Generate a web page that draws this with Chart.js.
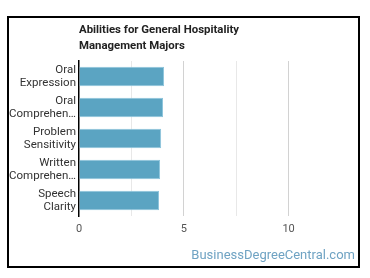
<!DOCTYPE html>
<html>
<head>
<meta charset="utf-8">
<script src="https://cdn.jsdelivr.net/npm/chart.js@4"></script>
<style>
  body { margin: 0; background: #fff; font-family: Roboto, sans-serif; }
  #wrap { position: relative; width: 370px; height: 278px; }
  #frame { position: absolute; left: 7px; top: 16px; width: 353px; height: 252px; box-sizing: border-box; border: 2px solid #000; z-index: 2; }
  #title { position: absolute; left: 79px; top: 21px; font-size: 11.4px; font-weight: bold; line-height: 16px; color: #222; }
  #mark { position: absolute; right: 15px; top: 247px; font-size: 13px; color: #6fa3c3; }
  canvas { position: absolute; left: 0; top: 0; }
</style>
</head>
<body>
<div id="wrap">
  <canvas id="abilitiesChart" width="370" height="278"></canvas>
  <div id="frame"></div>
  <div id="title">Abilities for General Hospitality<br>Management Majors</div>
  <div id="mark">BusinessDegreeCentral.com</div>
</div>
<script>
// Ability names (wrapped as shown) and their scores
const abilityLabels = [
  ['Oral', 'Expression'],
  ['Oral', 'Comprehen…'],
  ['Problem', 'Sensitivity'],
  ['Written', 'Comprehen…'],
  ['Speech', 'Clarity']
];
const abilityScores = [4.06, 4.01, 3.92, 3.87, 3.82];
const xTicks = [0, 5, 10];

const ctx = document.getElementById('abilitiesChart').getContext('2d');
new Chart(ctx, {
  type: 'bar',
  data: {
    labels: abilityLabels,
    datasets: [{
      data: abilityScores,
      backgroundColor: '#5ba4c2',
      borderColor: '#8cc4dc',
      borderWidth: 1,
      barPercentage: 0.63,
      categoryPercentage: 1
    }]
  },
  options: {
    indexAxis: 'y',
    responsive: false,
    animation: false,
    layout: { padding: { top: 61, right: 29, bottom: 38, left: 0 } },
    plugins: { legend: { display: false }, tooltip: { enabled: false } },
    scales: {
      x: {
        min: 0,
        max: 12.5,
        afterFit: s => { s.height = 24; },
        ticks: {
          stepSize: 2.5,
          autoSkip: false,
          maxRotation: 0,
          padding: 7,
          color: '#555',
          font: { family: 'Roboto', size: 11 },
          callback: v => xTicks.includes(v) ? v : ''
        },
        grid: {
          drawTicks: false,
          color: c => {
            const v = c.tick ? c.tick.value : 0;
            if (v === 0 || v > 10) return 'rgba(0,0,0,0)';
            return v % 5 === 0 ? '#d2d2d2' : '#e8e8e8';
          }
        },
        border: { display: false }
      },
      y: {
        afterFit: s => { s.width = 79; },
        ticks: {
          color: '#333',
          padding: 3,
          font: { family: 'Roboto', size: 11.5, lineHeight: 1.18 }
        },
        grid: { display: false, drawTicks: false },
        border: { display: true, color: '#000', width: 1.5 }
      }
    }
  }
});
</script>
</body>
</html>
